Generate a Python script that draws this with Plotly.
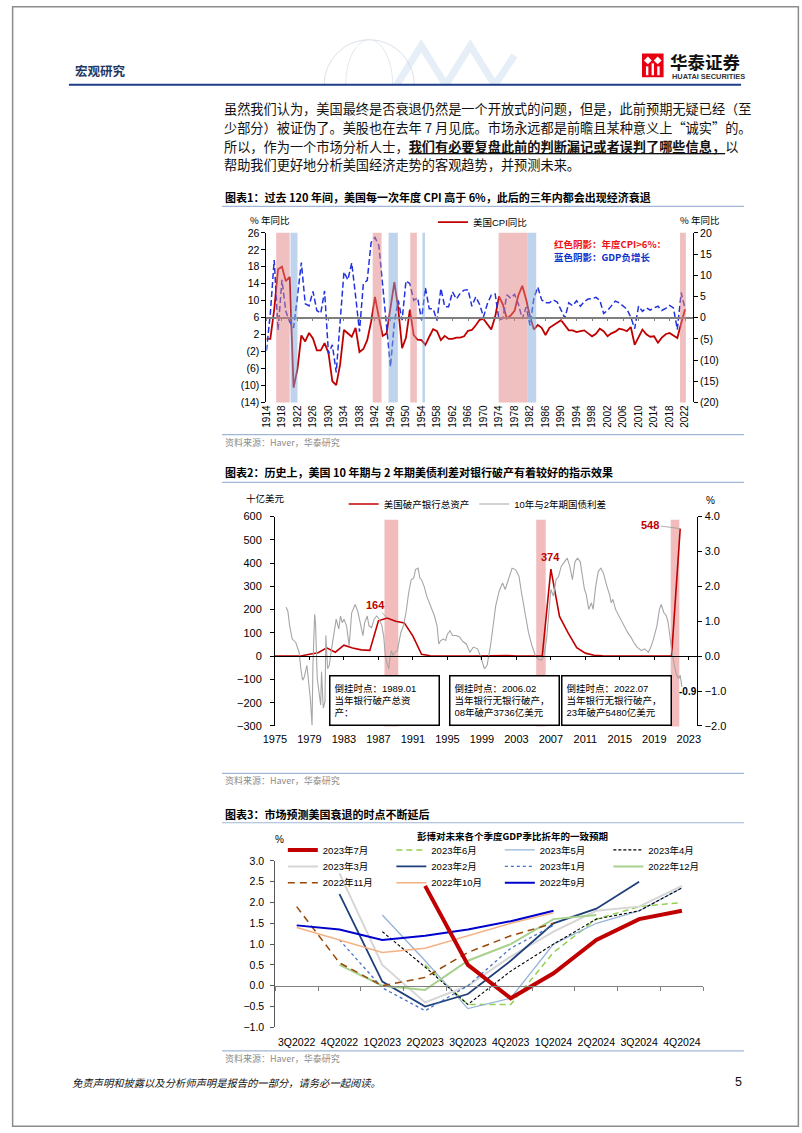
import plotly.graph_objects as go

W, H = 802, 1133
CJK = "Noto Sans CJK SC"
LAT = "Liberation Sans, Noto Sans CJK SC"


def fx(p):
    return p / W


def fy(p):
    return 1 - p / H


# ---------------- Chart 1 data ----------------
years1 = list(range(1914, 2023))
cpi_yoy = [1.0, 1.0, 7.9, 17.4, 18.0, 14.6, 15.6, -10.5, -6.1, 1.8,
           0.4, 2.4, 1.1, -1.7, -1.7, 0.0, -2.3, -9.0, -9.9, -5.1,
           3.1, 2.2, 1.5, 3.6, -2.1, -1.4, 0.7, 5.0, 10.9, 6.1,
           1.7, 2.3, 8.3, 14.4, 8.1, -1.2, 1.3, 7.9, 1.9, 0.8,
           0.7, -0.4, 1.5, 3.3, 2.8, 0.7, 1.7, 1.0, 1.0, 1.3,
           1.3, 1.6, 2.9, 3.1, 4.2, 5.5, 5.7, 4.4, 3.2, 6.2,
           11.0, 9.1, 5.8, 6.5, 7.6, 11.3, 13.5, 10.3, 6.2, 3.2,
           4.3, 3.6, 1.9, 3.6, 4.1, 4.8, 5.4, 4.2, 3.0, 3.0,
           2.6, 2.8, 3.0, 2.3, 1.6, 2.2, 3.4, 2.8, 1.6, 2.3,
           2.7, 3.4, 3.2, 2.8, 3.8, -0.4, 1.6, 3.2, 2.1, 1.5,
           1.6, 0.1, 1.3, 2.1, 2.4, 1.8, 1.2, 4.7, 8.0]
gdp_yoy = [-7.8, 1.0, 13.6, -3.0, 8.9, 1.5, -1.0, -2.4, 5.0, 13.0,
           3.3, 2.8, 6.2, 1.7, 1.0, 6.3, -8.5, -6.4, -12.9, -1.2,
           10.8, 8.9, 12.9, 5.1, -3.3, 8.0, 8.8, 17.7, 18.9, 17.0,
           8.0, -1.0, -11.6, -1.1, 4.1, -0.6, 8.7, 8.0, 4.1, 4.7,
           -0.6, 7.1, 2.1, 2.1, -0.7, 6.9, 2.6, 2.6, 6.1, 4.4,
           5.8, 6.5, 6.6, 2.7, 4.9, 3.1, 0.2, 3.3, 5.3, 5.6,
           -0.5, -0.2, 5.4, 4.6, 5.5, 3.2, -0.3, 2.5, -1.8, 4.6,
           7.2, 4.2, 3.5, 3.5, 4.2, 3.7, 1.9, -0.1, 3.5, 2.8,
           4.0, 2.7, 3.8, 4.4, 4.5, 4.8, 4.1, 1.0, 1.7, 2.8,
           3.9, 3.5, 2.8, 2.0, 0.1, -2.6, 2.7, 1.5, 2.3, 1.8,
           2.3, 2.7, 1.7, 2.2, 2.9, 2.3, -2.8, 5.9, 2.1]
cpi_high_periods = [(1916.5, 1920.0), (1941.4, 1943.7), (1951.1, 1952.8),
                    (1973.9, 1981.3), (2020.7, 2022.2)]
gdp_neg_periods = [(1920.2, 1922.0), (1945.5, 1947.9), (1954.25, 1954.9),
                   (1981.3, 1983.6)]
c1_xticks = list(range(1914, 2023, 4))
c1_left_ticks = list(range(-14, 27, 4))
c1_right_ticks = list(range(-20, 21, 5))

# ---------------- Chart 2 data ----------------
bank_x = [1975, 1976, 1977, 1978, 1979, 1980, 1981, 1982, 1983, 1984,
          1985, 1986, 1987, 1988, 1989, 1990, 1991, 1992, 1993, 1994,
          1995, 1996, 1997, 1998, 1999, 2000, 2001, 2002, 2003, 2004,
          2005, 2006, 2007, 2008, 2009, 2010, 2011, 2012, 2013, 2014,
          2015, 2016, 2017, 2018, 2019, 2020, 2021, 2022]
bank_assets = [0, 0, 0, 1, 8, 15, 36, 17, 47, 35,
               27, 25, 152, 164, 150, 143, 86, 8, 2, 1,
               0.5, 0.2, 0, 0.3, 1.5, 0.4, 2, 2.5, 1, 0.2,
               0, 0, 374, 171, 100, 37, 13, 4, 2, 1,
               0, 0.3, 1, 0, 0.2, 0.5, 0, 548]
spread_x = [1976.3, 1976.5, 1976.7, 1977.0, 1977.4, 1977.8, 1978.0, 1978.2, 1978.4, 1978.7,
            1978.9, 1979.1, 1979.3, 1979.4, 1979.6, 1979.7, 1979.9, 1980.1, 1980.3, 1980.4,
            1980.6, 1980.8, 1980.9, 1981.1, 1981.3, 1981.5, 1981.8, 1981.9, 1982.1, 1982.4,
            1982.6, 1982.8, 1983.0, 1983.3, 1983.6, 1983.9, 1984.1, 1984.3, 1984.6, 1984.8,
            1985.0, 1985.2, 1985.4, 1985.7, 1985.9, 1986.2, 1986.5, 1986.8, 1987.1, 1987.4,
            1987.6, 1987.8, 1988.0, 1988.2, 1988.3, 1988.5, 1988.7, 1988.9, 1989.2, 1989.6,
            1989.9, 1990.2, 1990.5, 1990.8, 1991.1, 1991.3, 1991.6, 1991.8, 1992.0, 1992.3,
            1992.6, 1992.9, 1993.2, 1993.5, 1993.8, 1994.0, 1994.2, 1994.5, 1994.8, 1995.0,
            1995.3, 1995.6, 1996.0, 1996.4, 1996.8, 1997.2, 1997.6, 1998.0, 1998.5, 1998.8,
            1999.3, 1999.6, 2000.0, 2000.6, 2001.0, 2001.4, 2001.7, 2002.1, 2002.5, 2002.9,
            2003.3, 2003.6, 2004.0, 2004.4, 2004.8, 2005.2, 2005.5, 2005.9, 2006.2, 2006.5,
            2006.7, 2007.0, 2007.3, 2007.6, 2007.9, 2008.2, 2008.6, 2008.9, 2009.2, 2009.5,
            2009.8, 2010.1, 2010.4, 2010.6, 2010.9, 2011.1, 2011.4, 2011.7, 2011.9, 2012.2,
            2012.5, 2012.8, 2013.1, 2013.5, 2013.8, 2014.0, 2014.2, 2014.5, 2014.9, 2015.3,
            2015.6, 2015.9, 2016.3, 2016.6, 2017.0, 2017.5, 2017.9, 2018.3, 2018.6, 2018.9,
            2019.3, 2019.6, 2019.8, 2020.1, 2020.4, 2020.6, 2020.9, 2021.1, 2021.4, 2021.6,
            2021.8, 2022.0, 2022.2]
spread_val = [1.40, 1.28, 0.87, 0.49, 0.40, 0.11, -0.36, -0.69, -0.60, -0.26,
              -0.74, -1.21, -1.98, -0.26, 1.20, 0.96, -0.64, -1.12, -1.40, -0.45,
              -1.49, -1.30, 0.59, -0.36, -0.26, 0.11, 0.59, 0.68, 1.06, 0.78,
              1.15, 0.96, 1.06, 0.87, 0.30, 1.25, 1.39, 1.48, 1.29, 1.06,
              0.78, 0.59, 0.96, 1.15, 0.87, 0.82, 1.06, 1.15, 1.06, 0.87,
              0.59, 0.02, -0.22, -0.36, -0.12, 0.16, 0.02, 0.11, 0.16, 0.68,
              0.87, 1.25, 1.81, 2.19, 2.24, 2.48, 2.52, 2.24, 2.19, 2.00,
              1.72, 1.53, 1.39, 1.15, 0.87, 0.35, 0.44, 0.49, 0.45, 0.63,
              0.73, 0.59, 0.59, 0.55, 0.42, 0.35, 0.11, 0.26, 0.21, 0.02,
              -0.36, -0.26, 0.30, 1.44, 1.86, 2.10, 1.91, 2.24, 2.52, 2.48,
              2.29, 1.81, 1.25, 0.68, 0.30, 0.02, -0.08, -0.12, 0.02, 0.49,
              1.06, 1.91, 1.72, 2.19, 2.29, 2.57, 2.71, 2.81, 2.57, 2.19,
              2.71, 2.81, 2.71, 2.38, 1.91, 1.77, 1.34, 1.53, 1.34, 2.00,
              2.43, 2.52, 2.38, 2.00, 1.77, 1.53, 1.63, 1.34, 1.15, 0.96,
              0.82, 0.68, 0.54, 0.40, 0.26, 0.16, 0.21, 0.11, 0.26, 0.49,
              0.87, 1.34, 1.48, 1.25, 1.15, 0.96, 0.40, 0.02, -0.36, -0.55,
              -0.64, -0.55, -0.88]
inversion_periods = [(1987.7, 1989.3), (2005.3, 2006.4), (2020.9, 2021.9)]
inversion_notes = ["倒挂时点：1989.01<br>当年银行破产总资<br>产：",
                   "倒挂时点：2006.02<br>当年银行无银行破产，<br>08年破产3736亿美元",
                   "倒挂时点：2022.07<br>当年银行无银行破产，<br>23年破产5480亿美元"]
c2_xticks = list(range(1975, 2024, 4))

# ---------------- Chart 3 data ----------------
quarters = ["3Q2022", "4Q2022", "1Q2023", "2Q2023", "3Q2023",
            "4Q2023", "1Q2024", "2Q2024", "3Q2024", "4Q2024"]
N = None
vintages = ["2023年7月", "2023年6月", "2023年5月", "2023年4月",
            "2023年3月", "2023年2月", "2023年1月", "2022年12月",
            "2022年11月", "2022年10月", "2022年9月"]
f_2023_07 = [N, N, N, 2.4, 0.5, -0.3, 0.3, 1.1, 1.6, 1.8]
f_2023_06 = [N, N, N, 0.5, -0.45, -0.45, 0.8, 1.6, 1.9, 2.0]
f_2023_05 = [N, N, 1.7, 0.6, -0.55, -0.3, 1.0, 1.5, 1.8, 2.35]
f_2023_04 = [N, N, 1.3, 0.45, -0.45, 0.35, 1.0, 1.6, 1.8, 2.35]
f_2023_03 = [N, 2.7, 0.5, -0.4, 0.0, 0.7, 1.3, 1.8, 1.9, 2.4]
f_2023_02 = [N, 2.2, 0.1, -0.5, -0.2, 0.6, 1.5, 1.85, 2.5, N]
f_2023_01 = [N, 1.1, -0.05, -0.6, 0.0, 0.9, 1.45, N, N, N]
f_2022_12 = [N, 0.5, 0.0, -0.1, 0.6, 1.0, 1.6, 1.7, N, N]
f_2022_11 = [1.9, 0.55, 0.0, 0.2, 0.8, 1.2, 1.5, N, N, N]
f_2022_10 = [1.4, 1.1, 0.8, 0.9, 1.2, 1.5, 1.75, N, N, N]
f_2022_09 = [1.45, 1.35, 1.1, 1.2, 1.35, 1.55, 1.8, N, N, N]
forecast_values = [f_2023_07, f_2023_06, f_2023_05, f_2023_04, f_2023_03, f_2023_02,
                   f_2023_01, f_2022_12, f_2022_11, f_2022_10, f_2022_09]

vintage_styles = [
    dict(color="#c00000", width=4, dash="solid"),
    dict(color="#92d050", width=1.5, dash="6px,4px"),
    dict(color="#95b3d7", width=1.3, dash="solid"),
    dict(color="#000000", width=1.1, dash="3px,2px"),
    dict(color="#d6d6d6", width=2, dash="solid"),
    dict(color="#1f3f7a", width=1.8, dash="solid"),
    dict(color="#4472c4", width=1.3, dash="dot"),
    dict(color="#a9d18e", width=2, dash="solid"),
    dict(color="#974706", width=1.5, dash="7px,5px"),
    dict(color="#f4b183", width=1.5, dash="solid"),
    dict(color="#0000cc", width=2, dash="solid"),
]
legend_rows = ["legend3"] * 4 + ["legend4"] * 4 + ["legend5"] * 3

fig = go.Figure()

# Chart 1 traces
fig.add_trace(go.Scatter(x=years1, y=cpi_yoy, mode="lines", name="美国CPI同比",
                         line=dict(color="#c00000", width=1.8),
                         xaxis="x", yaxis="y", legend="legend"))
fig.add_trace(go.Scatter(x=years1, y=gdp_yoy, mode="lines", name="GDP",
                         line=dict(color="#2233dd", width=1.5, dash="6px,3px"),
                         xaxis="x4", yaxis="y2", showlegend=False))

# Chart 2 traces
fig.add_trace(go.Scatter(x=bank_x, y=bank_assets, mode="lines", name="美国破产银行总资产",
                         line=dict(color="#c00000", width=1.6),
                         xaxis="x2", yaxis="y3", legend="legend2"))
fig.add_trace(go.Scatter(x=spread_x, y=spread_val, mode="lines", name="10年与2年期国债利差",
                         line=dict(color="#a6a6a6", width=1.1),
                         xaxis="x5", yaxis="y4", legend="legend2"))

# Chart 3 traces
for i, (name, vals, st, lg) in enumerate(zip(vintages, forecast_values, vintage_styles, legend_rows)):
    fig.add_trace(go.Scatter(x=list(range(len(quarters))), y=vals, mode="lines", name=name,
                             line=dict(color=st["color"], width=st["width"], dash=st["dash"]),
                             xaxis="x6" if i == 0 else "x3", yaxis="y5", legend=lg,
                             connectgaps=False))

# ---------------- axes ----------------
tick_font = dict(family=LAT, size=10.5, color="#000")


def paren(v):
    return f"({abs(v)})" if v < 0 else str(v)


c1_dom_y = [fy(400.7), fy(229.3)]
c2_dom_y = [fy(727.7), fy(516)]
c3_dom_y = [fy(1032.3), fy(864)]
c1_zero_pos = c1_dom_y[0] + (0 - (-20)) / 40 * (c1_dom_y[1] - c1_dom_y[0])
c2_zero_pos = c2_dom_y[0] + (0 - (-300)) / 900 * (c2_dom_y[1] - c2_dom_y[0])
c3_zero_pos = c3_dom_y[0] + (0 - (-1)) / 4 * (c3_dom_y[1] - c3_dom_y[0])
c1_range = [1914, 2024.05]
c2_range = [1975, 2024]
c3_range = [-0.5, 9.5]

common = dict(showgrid=False, zeroline=False)
fig.update_layout(
    xaxis=dict(domain=[fx(259.3), fx(694)], range=c1_range, anchor="y", tickmode="array",
               tickvals=c1_xticks, tickangle=-90, ticks="", showline=False,
               tickfont=dict(family=LAT, size=10, color="#000"), **common),
    yaxis=dict(domain=c1_dom_y, range=[-14, 26], anchor="x", tickmode="array",
               tickvals=c1_left_ticks, ticktext=[paren(v) for v in c1_left_ticks],
               showline=True, linecolor="#000", linewidth=1, ticks="outside", ticklen=4,
               tickcolor="#000", tickfont=tick_font, **common),
    yaxis2=dict(overlaying="y", side="right", anchor="x", range=[-20, 20], tickmode="array",
                tickvals=c1_right_ticks, ticktext=[paren(v) for v in c1_right_ticks],
                showline=True, linecolor="#000", linewidth=1, ticks="outside", ticklen=4,
                tickcolor="#000", tickfont=tick_font, **common),
    xaxis4=dict(overlaying="x", anchor="free", position=c1_zero_pos, range=c1_range,
                tickmode="array", tickvals=c1_xticks, showticklabels=False, ticks="outside",
                ticklen=3, tickcolor="#7f7f7f", showline=True, linecolor="#7f7f7f",
                linewidth=1.5, **common),

    xaxis2=dict(domain=[fx(268), fx(698.5)], range=c2_range, anchor="y3", tickmode="array",
                tickvals=c2_xticks, ticks="", showline=False, ticklabelstandoff=5,
                tickfont=dict(family=LAT, size=11, color="#000"), **common),
    yaxis3=dict(domain=c2_dom_y, range=[-300, 600], dtick=100, anchor="x2",
                showline=True, linecolor="#000", linewidth=1, ticks="outside", ticklen=4,
                tickcolor="#000", tickfont=dict(family=LAT, size=11, color="#000"),
                ticklabelstandoff=6, **common),
    yaxis4=dict(overlaying="y3", side="right", anchor="x2", range=[-2, 4], dtick=1,
                tickformat=".1f", showline=True, linecolor="#000", linewidth=1,
                ticks="outside", ticklen=4, tickcolor="#000",
                tickfont=dict(family=LAT, size=11, color="#000"), **common),
    xaxis5=dict(overlaying="x2", anchor="free", position=c2_zero_pos, range=c2_range,
                tickmode="array", tickvals=c2_xticks, showticklabels=False, ticks="outside",
                ticklen=3, tickcolor="#000", showline=True, linecolor="#000",
                linewidth=1.2, **common),

    xaxis3=dict(domain=[fx(268.3), fx(704.5)], range=c3_range, anchor="y5", tickmode="array",
                tickvals=list(range(len(quarters))), ticktext=quarters, ticks="",
                showline=False, ticklabelstandoff=7,
                tickfont=dict(family=LAT, size=10.5, color="#000"), **common),
    yaxis5=dict(domain=c3_dom_y, range=[-1, 3], dtick=0.5, tickformat=".1f", anchor="x3",
                showline=True, linecolor="#595959", linewidth=1, ticks="outside", ticklen=4,
                tickcolor="#595959", tickfont=dict(family=LAT, size=10.5, color="#000"),
                ticklabelstandoff=4, **common),
    xaxis6=dict(overlaying="x3", anchor="free", position=c3_zero_pos, range=c3_range,
                tickmode="array", tickvals=[i - 0.5 for i in range(len(quarters) + 1)],
                showticklabels=False, ticks="outside", ticklen=4, tickcolor="#808080",
                showline=True, linecolor="#808080", linewidth=1.2, **common),
)

# ---------------- legends ----------------
leg_font = dict(family=LAT, size=9.5, color="#000")


def leg(x_text, y_center, entrywidth=None):
    d = dict(x=fx(x_text - 47), y=fy(y_center - 14), xanchor="left", yanchor="top",
             orientation="h", font=leg_font, bgcolor="rgba(0,0,0,0)", borderwidth=0,
             itemwidth=30, traceorder="normal")
    if entrywidth:
        d["entrywidth"] = entrywidth
        d["entrywidthmode"] = "pixels"
    return d


fig.update_layout(
    legend=leg(476, 217.7),
    legend2=leg(385, 502.7),
    legend3=leg(323, 852.3, 63.5),
    legend4=leg(323, 869, 63.5),
    legend5=leg(323, 885.5, 63.5),
)

# ---------------- shapes ----------------
shapes = []


def hline(y, x0, x1, color, width):
    shapes.append(dict(type="line", xref="paper", yref="paper", x0=fx(x0), x1=fx(x1),
                       y0=fy(y), y1=fy(y), line=dict(color=color, width=width)))


# decorative header graphics
shapes.append(dict(type="circle", xref="paper", yref="paper", x0=fx(318), x1=fx(410),
                   y0=fy(126), y1=fy(34), line=dict(color="#dbe1ea", width=1)))
shapes.append(dict(type="circle", xref="paper", yref="paper", x0=fx(340), x1=fx(388),
                   y0=fy(126), y1=fy(34), line=dict(color="#e3e8ef", width=1)))
zig = [(392, 80), (417, 40), (442, 80), (467, 40), (492, 80), (512, 50)]
path = "M" + " L".join(f"{fx(a):.5f},{fy(b):.5f}" for a, b in zig)
shapes.append(dict(type="path", xref="paper", yref="paper", path=path,
                   line=dict(color="#c3d6ed", width=7), opacity=0.4))
shapes.append(dict(type="rect", xref="paper", yref="paper", x0=fx(300), x1=fx(530),
                   y0=fy(95), y1=fy(80.5), fillcolor="white", line=dict(width=0)))
hline(79.5, 58, 743, "#1f3c88", 2)

# logo icon
shapes.append(dict(type="rect", xref="paper", yref="paper", x0=fx(642), x1=fx(664),
                   y0=fy(72), y1=fy(48), fillcolor="#e60012", line=dict(width=0)))
for cx in (648, 658):
    p = [(cx - 4, 55), (cx, 51), (cx + 4, 55), (cx, 59)]
    shapes.append(dict(type="path", xref="paper", yref="paper",
                       path="M" + " L".join(f"{fx(a):.5f},{fy(b):.5f}" for a, b in p) + " Z",
                       fillcolor="white", line=dict(width=0)))
shapes.append(dict(type="rect", xref="paper", yref="paper", x0=fx(646), x1=fx(648.5),
                   y0=fy(70), y1=fy(61), fillcolor="white", line=dict(width=0)))
shapes.append(dict(type="rect", xref="paper", yref="paper", x0=fx(651.8), x1=fx(654.2),
                   y0=fy(70), y1=fy(58), fillcolor="white", line=dict(width=0)))
shapes.append(dict(type="rect", xref="paper", yref="paper", x0=fx(657.5), x1=fx(660),
                   y0=fy(70), y1=fy(61), fillcolor="white", line=dict(width=0)))

# section rules
rule_c = "#9fb6d6"
hline(202.5, 214, 746, rule_c, 1.2)
hline(433.3, 214, 746, rule_c, 1.2)
hline(481.5, 214, 746, rule_c, 1.2)
hline(775.5, 214, 746, rule_c, 1.2)
hline(825.5, 214, 746, rule_c, 1.2)
hline(1056, 214, 746, rule_c, 1.2)

# chart 1 shading (semi-transparent, above lines)
for a, b in cpi_high_periods:
    shapes.append(dict(type="rect", xref="x", yref="y domain", x0=a, x1=b, y0=0, y1=1,
                       fillcolor="rgb(226,128,128)", opacity=0.5, line=dict(width=0),
                       layer="above"))
for a, b in gdp_neg_periods:
    shapes.append(dict(type="rect", xref="x", yref="y domain", x0=a, x1=b, y0=0, y1=1,
                       fillcolor="rgb(128,168,218)", opacity=0.5, line=dict(width=0),
                       layer="above"))
# chart 2 shading
for a, b in inversion_periods:
    shapes.append(dict(type="rect", xref="x2", yref="y3 domain", x0=a, x1=b, y0=-0.003,
                       y1=0.985, fillcolor="#f2bcbc", line=dict(width=0), layer="below"))

# page border
shapes.append(dict(type="rect", xref="paper", yref="paper", x0=0.0008, x1=0.9992,
                   y0=0.0006, y1=0.9994, line=dict(color="#8c8c8c", width=1.5)))

# ---------------- annotations ----------------
ann = []


def text(x, y, s, size, color="#000", family=CJK, xanchor="left", yanchor="middle", **kw):
    ann.append(dict(xref="paper", yref="paper", x=fx(x), y=fy(y), text=s, showarrow=False,
                    xanchor=xanchor, yanchor=yanchor,
                    font=dict(size=size, color=color, family=family), **kw))


# header
text(62, 65.5, "<b>宏观研究</b>", 12.5, "#1f3864")
text(669, 56.5, "<b>华泰证券</b>", 17.5, "#111")
text(671, 71, "<b>HUATAI SECURITIES</b>", 7.4, "#333", family="Liberation Sans")

# body
body_lines = [
    "虽然我们认为，美国最终是否衰退仍然是一个开放式的问题，但是，此前预期无疑已经（至",
    "少部分）被证伪了。美股也在去年 7 月见底。市场永远都是前瞻且某种意义上“诚实”的。",
    "所以，作为一个市场分析人士，<b><u>我们有必要复盘此前的判断漏记或者误判了哪些信息，</u></b>以",
    "帮助我们更好地分析美国经济走势的客观趋势，并预测未来。",
]
for s, yy in zip(body_lines, [103.3, 122.3, 141.5, 160.3]):
    text(214.5, yy, s, 13.2, "#111")

# chart titles & sources
text(215, 193.3, "<b>图表1：过去 120 年间，美国每一次年度 CPI 高于 6%，此后的三年内都会出现经济衰退</b>", 11)
text(215, 470.5, "<b>图表2：历史上，美国 10 年期与 2 年期美债利差对银行破产有着较好的指示效果</b>", 11)
text(215, 816.7, "<b>图表3：市场预测美国衰退的时点不断延后</b>", 11)
for yy in (440.7, 783, 1063.5):
    text(215, yy, "资料来源：Haver，华泰研究", 9, "#8c8c8c")

# chart 1 labels
text(241, 216, "% 年同比", 9.5)
text(679, 216, "% 年同比", 9.5)
text(550, 240.5, "<b>红色阴影：年度CPI&gt;6%：</b>", 9.5, "#ee1111")
text(550, 253.5, "<b>蓝色阴影：GDP负增长</b>", 9.5, "#1133cc")

# chart 2 labels
text(236, 497, "十亿美元", 9.5)
text(705, 500, "%", 10, family=LAT)
i_peak1 = bank_assets.index(max(bank_assets[:20]))
i_peak2 = bank_assets.index(max(bank_assets[20:40]))
i_peak3 = len(bank_assets) - 1
red_lab = dict(size=11, color="#c00000", family="Liberation Sans")
ann.append(dict(xref="x2", yref="y3", x=bank_x[i_peak1], y=bank_assets[i_peak1],
                text=f"<b>{bank_assets[i_peak1]:.0f}</b>", showarrow=True, arrowhead=0,
                arrowcolor="#9a9a9a", arrowwidth=0.8, ax=-12, ay=-13, font=red_lab))
ann.append(dict(xref="x2", yref="y3", x=bank_x[i_peak2], y=bank_assets[i_peak2],
                text=f"<b>{bank_assets[i_peak2]:.0f}</b>", showarrow=False, yshift=12,
                font=red_lab))
ann.append(dict(xref="x2", yref="y3", x=bank_x[i_peak3], y=bank_assets[i_peak3],
                text=f"<b>{bank_assets[i_peak3]:.0f}</b>", showarrow=True, arrowhead=0,
                arrowcolor="#9a9a9a", arrowwidth=0.8, ax=-30, ay=-4, font=red_lab))
ann.append(dict(xref="x5", yref="y4", x=spread_x[-1], y=spread_val[-1],
                text=f"<b>{spread_val[-1]:.1f}</b>", showarrow=False, xshift=6, yshift=-5,
                font=dict(size=10, color="#000", family="Liberation Sans")))
for note, cx in zip(inversion_notes, [379.5, 501.4, 616.3]):
    ann.append(dict(xref="paper", yref="paper", x=fx(cx), y=fy(701.5), text=note,
                    showarrow=False, xanchor="center", yanchor="middle", align="left",
                    valign="middle", width=100, height=40, borderpad=4, borderwidth=1.5,
                    bordercolor="#000", bgcolor="white",
                    font=dict(size=9.5, color="#000", family=LAT)))

# chart 3 labels
text(266, 842, "%", 10, family=LAT)
text(510, 839, "<b>彭博对未来各个季度GDP季比折年的一致预期</b>", 9.5, xanchor="center")

# footer
text(59, 1088, "<i>免责声明和披露以及分析师声明是报告的一部分，请务必一起阅读。</i>", 10.3, "#111")
text(740, 1088, "5", 12.5, "#111", family="Liberation Sans", xanchor="center")

fig.update_layout(
    width=W, height=H, autosize=False,
    margin=dict(l=0, r=0, t=0, b=0),
    paper_bgcolor="white", plot_bgcolor="rgba(0,0,0,0)",
    shapes=shapes, annotations=ann, hovermode=False,
    font=dict(family=LAT, color="#000"),
)

fig.write_html("out.html", config={"displayModeBar": False},
               post_script="document.body.style.margin='0px';document.body.style.overflow='hidden';")
